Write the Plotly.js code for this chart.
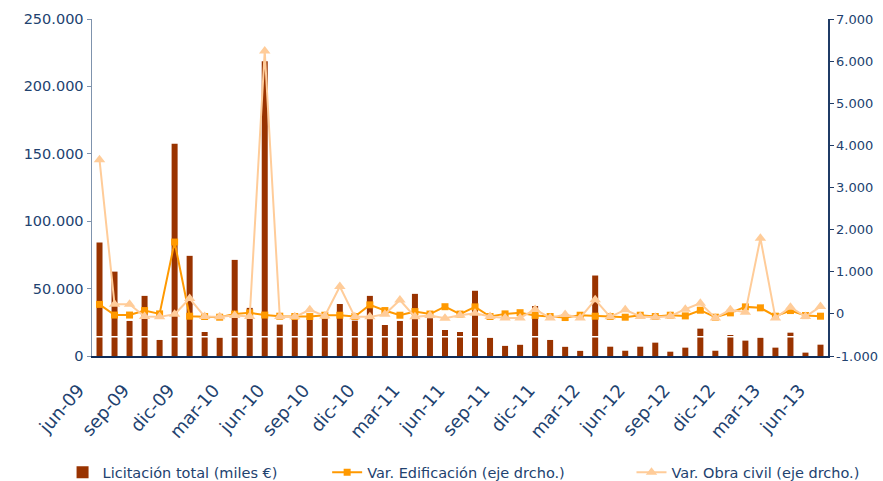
<!DOCTYPE html>
<html><head><meta charset="utf-8">
<script src="https://cdn.plot.ly/plotly-3.0.1.min.js"></script>
<style>html,body{margin:0;padding:0;background:#fff}#chart{width:883px;height:481px}</style>
</head><body><div id="chart"></div>
<script>
// ---- data ----
const months = ['jun-09','jul-09','ago-09','sep-09','oct-09','nov-09','dic-09',
  'ene-10','feb-10','mar-10','abr-10','may-10','jun-10','jul-10','ago-10','sep-10','oct-10','nov-10','dic-10',
  'ene-11','feb-11','mar-11','abr-11','may-11','jun-11','jul-11','ago-11','sep-11','oct-11','nov-11','dic-11',
  'ene-12','feb-12','mar-12','abr-12','may-12','jun-12','jul-12','ago-12','sep-12','oct-12','nov-12','dic-12',
  'ene-13','feb-13','mar-13','abr-13','may-13','jun-13'];
const licitacionTotal = [84200, 62600, 26000, 44600, 11900, 157500, 74300, 17800, 13600, 71300, 35700, 218700,
  23300, 28000, 28000, 27500, 38600, 26200, 44600, 23000, 26000, 46100, 28000, 19300, 17800, 48400, 13500,
  7500, 8300, 37100, 11900, 6800, 3800, 59700, 6900, 3900, 6900, 9900, 3200, 6200, 20300, 3900, 15600,
  11400, 13600, 6200, 17300, 2500, 8400];
const varEdificacion = [225, -28, -28, 79, 0, 1705, -55, -63, -79, -5, 24, -28, -55, -63, -63, -32, -32, -63,
  214, 79, -32, 55, -4, 170, -5, 166, -63, 0, 28, -36, -63, -87, -32, -55, -63, -79, -32, -63, -32, -48,
  87, -79, 24, 166, 143, -55, 79, -40, -55];
const varObraCivil = [3660, 230, 230, -63, -71, -8, 364, -63, -71, -40, -63, 6240, -63, -71, 95, -48, 650,
  -71, -71, -8, 330, -71, -40, -103, -32, 16, -63, -95, -95, 105, -95, -16, -95, 333, -71, 95, -63, -79,
  -55, 111, 254, -95, 95, 40, 1795, -95, 159, -63, 174];
const xTickLabels = ['jun-09','sep-09','dic-09','mar-10','jun-10','sep-10','dic-10','mar-11','jun-11',
  'sep-11','dic-11','mar-12','jun-12','sep-12','dic-12','mar-13','jun-13'];
const leftTickVals = [0, 50000, 100000, 150000, 200000, 250000];
const leftTickText = ['0', '50.000', '100.000', '150.000', '200.000', '250.000'];
const rightTickVals = [-1000, 0, 1000, 2000, 3000, 4000, 5000, 6000, 7000];
const rightTickText = ['-1.000', '0', '1.000', '2.000', '3.000', '4.000', '5.000', '6.000', '7.000'];
const seriesNames = ['Licitación total (miles €)', 'Var. Edificación (eje drcho.)', 'Var. Obra civil (eje drcho.)'];

// ---- chart ----
const textColor = '#22426f';
const font = 'DejaVu Sans, Verdana, sans-serif';
const boundaryTicks = xTickLabels.map(l => months.indexOf(l) - 0.5);

const traces = [
  { type: 'bar', x: months, y: licitacionTotal, name: seriesNames[0], yaxis: 'y',
    marker: { color: '#993300' }, legend: 'legend' },
  { type: 'scatter', mode: 'lines+markers', x: months, y: varEdificacion, name: seriesNames[1], yaxis: 'y2',
    line: { color: '#FF9900', width: 2 }, marker: { symbol: 'square', size: 7, color: '#FF9900' }, legend: 'legend2' },
  { type: 'scatter', mode: 'lines+markers', x: months, y: varObraCivil, name: seriesNames[2], yaxis: 'y2',
    line: { color: '#FFCC99', width: 2 }, marker: { symbol: 'triangle-up', size: 10, color: '#FFCC99' }, legend: 'legend3' }
];

const legendBase = { orientation: 'h', xanchor: 'left', yanchor: 'middle', y: -0.345,
  font: { family: font, size: 14.5, color: textColor }, bgcolor: 'rgba(0,0,0,0)' };

const layout = {
  width: 883, height: 481,
  margin: { l: 92, r: 55, t: 19, b: 125, autoexpand: false },
  paper_bgcolor: '#ffffff', plot_bgcolor: '#ffffff',
  separators: ',.',
  bargap: 0.6,
  showlegend: true,
  xaxis: { type: 'category', range: [-0.5, months.length - 0.5], tickmode: 'array',
    tickvals: xTickLabels, ticktext: xTickLabels, tickangle: -49, automargin: false,
    ticks: '', showgrid: false, zeroline: false, showline: true, linecolor: '#0f2c58', linewidth: 1.5,
    tickfont: { family: font, size: 18, color: textColor }, ticklabelshift: -21, ticklabelstandoff: 15 },
  xaxis2: { overlaying: 'x', anchor: 'y', side: 'bottom', type: 'linear', range: [-0.5, months.length - 0.5],
    tickmode: 'array', tickvals: boundaryTicks, showticklabels: false, ticks: 'outside', ticklen: 5,
    tickwidth: 1.5, tickcolor: '#0f2c58', showgrid: false, zeroline: false, showline: false, automargin: false },
  yaxis: { range: [0, 250000], tickmode: 'array', tickvals: leftTickVals, ticktext: leftTickText,
    showgrid: false, zeroline: false, showline: true, linecolor: '#7f93ad', linewidth: 1.5,
    ticks: 'outside', ticklen: 4, tickcolor: '#7f93ad', automargin: false,
    tickfont: { family: font, size: 14.5, color: textColor } },
  yaxis2: { overlaying: 'y', side: 'right', anchor: 'x', range: [-1000, 7000], tickmode: 'array',
    tickvals: rightTickVals, ticktext: rightTickText, automargin: false,
    showgrid: false, zeroline: false, showline: true, linecolor: '#1f3b66', linewidth: 1.5,
    ticks: 'outside', ticklen: 4, tickcolor: '#1f3b66',
    tickfont: { family: font, size: 13, color: textColor } },
  legend: Object.assign({}, legendBase, { x: -0.040 }),
  legend2: Object.assign({}, legendBase, { x: 0.3195 }),
  legend3: Object.assign({}, legendBase, { x: 0.733 }),
  shapes: [{ type: 'line', xref: 'paper', x0: 0.002, x1: 0.998, yref: 'y', y0: 14300, y1: 14300,
    line: { color: '#ffffff', width: 1.5 }, layer: 'above' }]
};

Plotly.newPlot('chart', traces, layout, { displayModeBar: false, staticPlot: true });
</script>
</body></html>
